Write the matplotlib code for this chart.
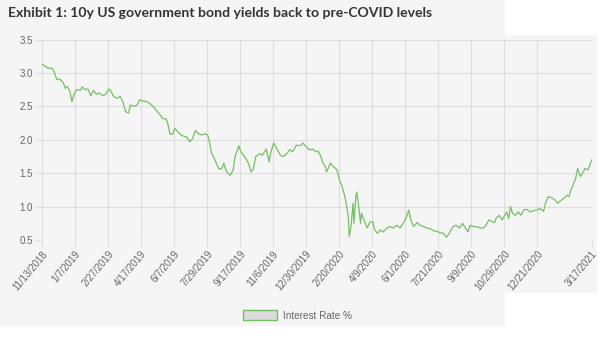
import numpy as np
import matplotlib.pyplot as plt
from matplotlib.patches import Rectangle, Patch

# x axis is a category axis of trading days; labels every 35 days plus the last one
tick_labels = ["11/13/2018", "1/7/2019", "2/27/2019", "4/17/2019", "6/7/2019",
               "7/29/2019", "9/17/2019", "11/6/2019", "12/30/2019", "2/20/2020",
               "4/9/2020", "6/1/2020", "7/21/2020", "9/9/2020", "10/29/2020",
               "12/21/2020", "3/17/2021"]
tick_days = [0, 35, 70, 105, 140, 175, 210, 245, 280, 315, 350, 385, 420, 455,
             490, 525, 583]

# 10y yield (trading-day index, %)
trade_day = [0, 4, 7, 11, 13, 16, 19, 23, 25, 27, 30, 32, 34, 37, 41, 43, 46, 49,
             52, 55, 58, 61, 65, 68, 71, 73, 76, 80, 83, 86, 89, 92, 94, 98, 101,
             104, 107, 111, 114, 118, 121, 125, 128, 132, 134, 136, 139, 141, 145,
             148, 151,
             154, 157, 160, 163, 166, 170, 173, 176, 178, 180, 183, 186, 188, 191,
             193, 196, 200, 203, 205, 209, 211, 214, 217, 219, 222, 224, 227, 231,
             234, 238, 241, 243, 246, 249, 253, 256, 259, 263, 266, 270, 274, 277,
             280, 284, 287, 291, 293, 296, 298, 300,
             302, 306, 309, 313, 316, 318, 321, 323, 325, 326, 328, 330, 331, 333,
             334, 336, 338, 339, 341, 345, 348, 351, 353, 356, 359, 362, 366, 369,
             373, 376, 380, 383, 386, 389, 391, 394, 398, 401, 405, 408, 412, 415,
             419, 422, 426, 429, 432, 436, 439, 443, 446,
             449, 452, 454, 458, 461, 465, 468, 471, 474, 477, 480, 482, 485, 488,
             491, 493, 495, 497, 499, 502, 505, 508, 511, 514, 518, 521, 525, 528,
             532, 534, 537, 541, 544, 547, 551, 554, 557, 559, 561, 564, 566, 568,
             571, 574, 576, 579, 581, 583]
rate = [3.13, 3.10, 3.07, 3.07, 3.02, 2.90, 2.91, 2.85, 2.77, 2.80, 2.72, 2.57,
        2.67, 2.75, 2.74, 2.79, 2.75, 2.76, 2.66, 2.74, 2.68, 2.70, 2.66, 2.68,
        2.76, 2.74, 2.65, 2.62, 2.65, 2.57, 2.42, 2.40, 2.52, 2.50, 2.52, 2.60,
        2.58, 2.57, 2.55, 2.50, 2.45, 2.38, 2.32, 2.31, 2.22, 2.08, 2.09, 2.17,
        2.11, 2.07, 2.05,
        2.04, 1.97, 2.02, 2.14, 2.09, 2.07, 2.09, 2.07, 1.95, 1.80, 1.72, 1.62,
        1.56, 1.57, 1.65, 1.52, 1.47, 1.55, 1.75, 1.91, 1.82, 1.77, 1.70, 1.65,
        1.52, 1.55, 1.75, 1.79, 1.77, 1.86, 1.67, 1.82, 1.95, 1.87, 1.77, 1.75,
        1.78, 1.85, 1.82, 1.92, 1.91, 1.95, 1.90, 1.85, 1.86, 1.82, 1.83, 1.75,
        1.65, 1.62,
        1.52, 1.65, 1.60, 1.55, 1.38, 1.32, 1.17, 1.03, 0.85, 0.55, 0.72, 1.05,
        0.75, 1.15, 1.22, 1.00, 0.75, 0.90, 0.82, 0.68, 0.77, 0.77, 0.65, 0.60,
        0.65, 0.62, 0.68, 0.70, 0.68, 0.72, 0.68, 0.75, 0.82, 0.95, 0.82, 0.70,
        0.76, 0.72, 0.70, 0.68, 0.67, 0.64, 0.63, 0.61, 0.60, 0.54, 0.60, 0.70,
        0.72, 0.68, 0.75,
        0.68, 0.62, 0.72, 0.70, 0.70, 0.68, 0.68, 0.72, 0.80, 0.78, 0.76, 0.83,
        0.87, 0.80, 0.87, 0.92, 0.82, 1.00, 0.90, 0.87, 0.92, 0.87, 0.95, 0.96,
        0.92, 0.94, 0.95, 0.97, 0.93, 1.05, 1.15, 1.13, 1.10, 1.05, 1.10, 1.13,
        1.17, 1.15, 1.25, 1.35, 1.42, 1.57, 1.45, 1.52, 1.57, 1.55, 1.62, 1.70]

W, H = 600, 340
bg = "#f5f5f5"
grid_c = "#dedede"
line_c = "#74c062"
text_c = "#666666"

fig = plt.figure(figsize=(W / 100, H / 100), dpi=100)

# two grey panels (title/legend block and chart block)
fig.patches.append(Rectangle((0, 1 - 326 / H), 505 / W, 326 / H,
                             transform=fig.transFigure, fc=bg, ec="none", zorder=-10))
fig.patches.append(Rectangle((0, 1 - 293 / H), 597 / W, 258 / H,
                             transform=fig.transFigure, fc=bg, ec="none", zorder=-10))

ax = fig.add_axes([41.7 / W, 1 - 240 / H, 550 / W, 200.5 / H])
ax.patch.set_visible(False)

ax.plot(trade_day, rate, color=line_c, lw=0.9)

ax.set_xlim(0, 583)
ax.set_ylim(0.5, 3.5)
ax.set_yticks(np.arange(0.5, 3.51, 0.5))
ax.set_yticklabels([f"{v:.1f}" for v in np.arange(0.5, 3.51, 0.5)])
ax.set_xticks(tick_days)
ax.set_xticklabels(tick_labels, rotation=50, ha="right", rotation_mode="anchor")

ax.grid(True, color=grid_c, lw=0.8)
for s in ax.spines.values():
    s.set_visible(False)
ax.tick_params(length=5, width=0.8, color=grid_c, labelcolor=text_c,
               labelsize=7.0, pad=1.5)
for lab in ax.get_xticklabels() + ax.get_yticklabels():
    lab.set_fontfamily("Liberation Sans")

fig.text(7.5 / W, 1 - 17 / H,
         "Exhibit 1: 10y US government bond yields back to pre-COVID levels",
         fontsize=10.1, fontweight="bold", family="Lato", color="#333333",
         ha="left", va="baseline")

handle = Patch(facecolor="#dcdcdc", edgecolor=line_c, lw=1.0)
fig.legend([handle], ["Interest Rate %"], loc="center",
           bbox_to_anchor=(297.5 / W, 1 - 315.5 / H), frameon=False,
           prop={"family": "Liberation Sans", "size": 7.2}, labelcolor=text_c,
           handlelength=3.4, handleheight=1.05, handletextpad=0.55)

fig.savefig("out.png", dpi=100, facecolor="white")
